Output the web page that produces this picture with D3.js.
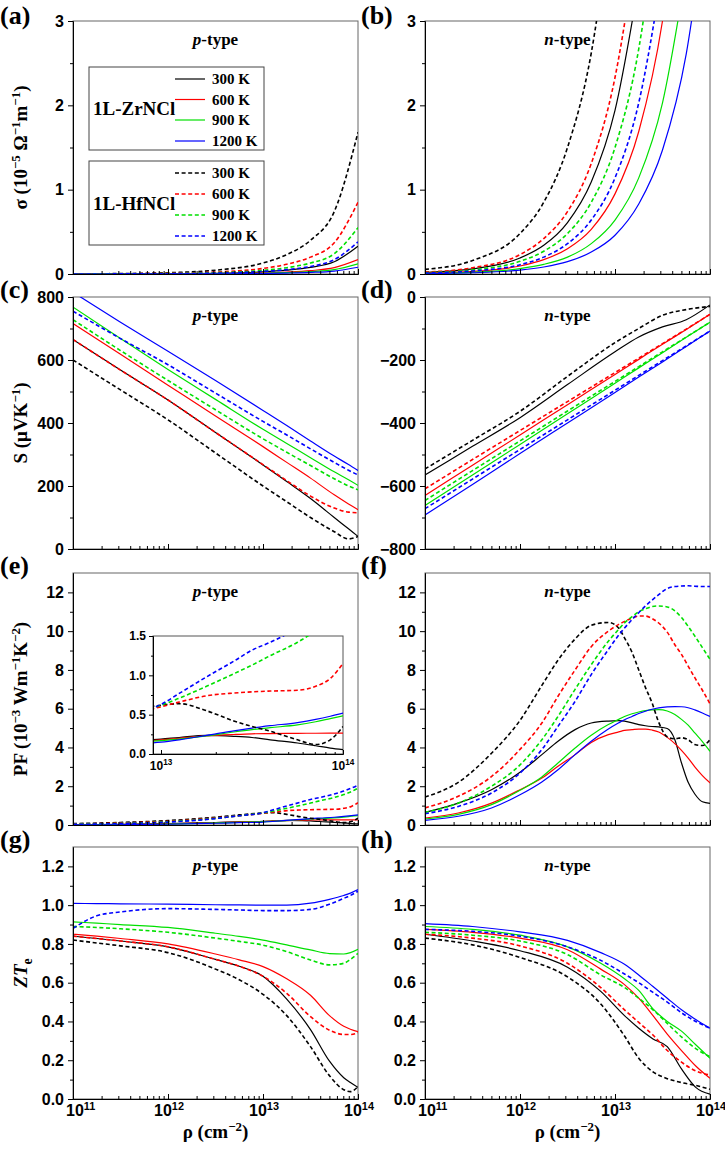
<!DOCTYPE html>
<html><head><meta charset="utf-8">
<script src="https://cdn.jsdelivr.net/npm/d3@7"></script>
<style>body{margin:0;background:#fff} svg{display:block}</style>
</head><body><svg id="c" width="725" height="1149"></svg>
<script>
// ---------- DATA (x grids are log10 of carrier density in cm^-2) ----------
// Row order in every value table: Zr300, Zr600, Zr900, Zr1200, Hf300, Hf600, Hf900, Hf1200
const temps = ["300 K", "600 K", "900 K", "1200 K"];
const materials = ["1L-ZrNCl", "1L-HfNCl"];
const colors = ["#000000", "#ff0000", "#00e000", "#0000ff"];
const xTickExps = [11, 12, 13, 14];

const sigP_x = [11, 11.5, 12, 12.5, 13, 13.25, 13.5, 13.75, 14];
const sigP = [
  [0.0004, 0.001, 0.003, 0.009, 0.025, 0.045, 0.078, 0.145, 0.33],
  [0.0002, 0.0005, 0.0015, 0.0045, 0.013, 0.023, 0.04, 0.075, 0.17],
  [0.00015, 0.00035, 0.001, 0.003, 0.009, 0.016, 0.028, 0.052, 0.12],
  [0.0001, 0.00025, 0.0007, 0.002, 0.006, 0.011, 0.019, 0.035, 0.08],
  [0.002, 0.005, 0.015, 0.045, 0.13, 0.23, 0.40, 0.74, 1.68],
  [0.001, 0.0025, 0.008, 0.023, 0.066, 0.116, 0.20, 0.37, 0.85],
  [0.0007, 0.0016, 0.005, 0.015, 0.043, 0.075, 0.13, 0.24, 0.55],
  [0.0005, 0.0011, 0.0034, 0.01, 0.03, 0.052, 0.09, 0.17, 0.38]
];

const sigN_x = [11, 11.5, 12, 12.25, 12.5, 12.75, 13, 13.25, 13.5, 13.75, 14];
const sigN = [
  [0.019, 0.061, 0.19, 0.34, 0.61, 1.09, 1.94, 3.45, null, null, null],
  [0.0095, 0.03, 0.095, 0.17, 0.3, 0.53, 0.95, 1.69, 3.0, 5.3, null],
  [0.0064, 0.02, 0.064, 0.114, 0.2, 0.36, 0.64, 1.14, 2.03, 3.6, null],
  [0.0046, 0.015, 0.046, 0.083, 0.146, 0.26, 0.46, 0.83, 1.47, 2.61, 4.65],
  [0.055, 0.16, 0.48, 0.85, 1.5, 2.62, 4.65, null, null, null, null],
  [0.023, 0.074, 0.23, 0.42, 0.74, 1.31, 2.33, 4.1, null, null, null],
  [0.015, 0.048, 0.15, 0.27, 0.48, 0.85, 1.50, 2.67, 4.75, null, null],
  [0.011, 0.036, 0.11, 0.2, 0.36, 0.64, 1.14, 2.03, 3.6, null, null]
];

const seebP_x = [11, 11.5, 12, 12.5, 13, 13.25, 13.5, 13.75, 13.9, 14];
const seebP = [
  [665, 568, 473, 370, 267, 214, 160, 100, 64, 40],
  [716, 618, 520, 422, 325, 275, 225, 172, 143, 125],
  [768, 668, 570, 475, 380, 335, 290, 245, 220, 202],
  [815, 720, 628, 535, 440, 392, 343, 295, 268, 249],
  [600, 505, 410, 305, 200, 150, 100, 55, 32, 40],
  [665, 568, 473, 370, 268, 217, 168, 130, 117, 115],
  [728, 630, 535, 442, 350, 307, 265, 223, 200, 188],
  [755, 668, 585, 495, 405, 362, 318, 275, 250, 235]
];

const seebN_x = [11, 11.5, 12, 12.5, 13, 13.25, 13.5, 13.75, 14];
const seebN = [
  [-565, -474, -383, -278, -174, -127, -95, -72, -25],
  [-630, -534, -438, -342, -246, -198, -150, -103, -55],
  [-662, -565, -468, -371, -274, -225, -177, -128, -80],
  [-692, -595, -497, -400, -303, -254, -206, -157, -108],
  [-546, -455, -363, -252, -145, -100, -58, -40, -30],
  [-609, -516, -424, -332, -240, -194, -148, -102, -55],
  [-646, -551, -457, -362, -268, -221, -174, -127, -80],
  [-672, -578, -484, -390, -296, -249, -202, -155, -108]
];

const pfP_x = [11, 11.5, 12, 12.5, 12.75, 13, 13.1, 13.25, 13.4, 13.5, 13.6, 13.75, 13.85, 13.93, 14];
const pfP = [
  [0.01, 0.03, 0.07, 0.13, 0.16, 0.19, 0.21, 0.236, 0.225, 0.21, 0.18, 0.14, 0.105, 0.075, 0.055],
  [0.01, 0.025, 0.06, 0.12, 0.15, 0.18, 0.20, 0.23, 0.248, 0.257, 0.26, 0.263, 0.264, 0.265, 0.265],
  [0.008, 0.02, 0.05, 0.11, 0.14, 0.17, 0.19, 0.23, 0.28, 0.31, 0.335, 0.37, 0.41, 0.45, 0.485],
  [0.006, 0.015, 0.04, 0.09, 0.12, 0.15, 0.18, 0.236, 0.295, 0.33, 0.36, 0.40, 0.44, 0.48, 0.52],
  [0.07, 0.13, 0.23, 0.4, 0.52, 0.62, 0.64, 0.55, 0.42, 0.35, 0.29, 0.18, 0.12, 0.18, 0.35],
  [0.05, 0.1, 0.19, 0.36, 0.48, 0.60, 0.66, 0.74, 0.775, 0.79, 0.80, 0.81, 0.86, 0.96, 1.15],
  [0.04, 0.08, 0.17, 0.34, 0.48, 0.62, 0.71, 0.86, 1.02, 1.13, 1.25, 1.42, 1.57, 1.72, 1.9],
  [0.03, 0.07, 0.15, 0.33, 0.48, 0.63, 0.77, 0.98, 1.18, 1.32, 1.42, 1.6, 1.75, 1.9, 2.05]
];

const pfN_x = [11, 11.35, 11.7, 12, 12.23, 12.4, 12.58, 12.75, 12.93, 13.04, 13.1, 13.18, 13.25, 13.32, 13.39, 13.46, 13.55, 13.63, 13.7, 13.77, 13.84, 13.92, 14];
const pfN = [
  [0.65, 1.13, 1.82, 2.72, 3.63, 4.32, 4.92, 5.26, 5.36, 5.38, 5.36, 5.27, 5.18, 5.12, 5.08, 5.06, 4.98, 4.4, 3.2, 2.2, 1.6, 1.2, 1.12],
  [0.36, 0.62, 1.13, 1.82, 2.42, 3.03, 3.63, 4.26, 4.66, 4.8, 4.88, 4.92, 4.95, 4.95, 4.9, 4.8, 4.52, 4.2, 3.85, 3.45, 3.0, 2.55, 2.17],
  [0.31, 0.55, 1.05, 1.79, 2.48, 3.2, 3.97, 4.63, 5.18, 5.45, 5.6, 5.74, 5.83, 5.9, 5.94, 5.95, 5.88, 5.7, 5.45, 5.15, 4.75, 4.3, 3.8],
  [0.24, 0.45, 0.88, 1.56, 2.22, 2.85, 3.63, 4.32, 4.95, 5.27, 5.43, 5.6, 5.75, 5.87, 5.97, 6.04, 6.09, 6.11, 6.1, 6.05, 5.94, 5.78, 5.6],
  [1.44, 2.2, 3.7, 5.4, 7.2, 8.5, 9.6, 10.3, 10.45, 10.15, 9.65, 8.9, 8.0, 7.1, 6.3, 5.3, 4.55, 4.45, 4.5, 4.4, 4.15, 4.1, 4.4],
  [0.88, 1.48, 2.5, 3.9, 5.26, 6.64, 8.0, 9.2, 10.0, 10.35, 10.5, 10.68, 10.78, 10.78, 10.65, 10.42, 9.95, 9.3, 8.8, 8.2, 7.6, 6.95, 6.25],
  [0.65, 1.13, 2.0, 3.1, 4.4, 5.6, 7.0, 8.27, 9.48, 10.1, 10.42, 10.75, 11.0, 11.15, 11.27, 11.3, 11.25, 11.05, 10.7, 10.25, 9.75, 9.15, 8.55],
  [0.58, 0.96, 1.65, 2.68, 3.89, 5.09, 6.38, 7.76, 9.05, 9.8, 10.16, 10.6, 10.95, 11.3, 11.6, 11.88, 12.2, 12.3, 12.33, 12.34, 12.32, 12.3, 12.3]
];

const ztP_x = [11, 11.25, 11.5, 12, 12.5, 12.75, 13, 13.25, 13.5, 13.7, 13.85, 13.92, 14];
const ztP = [
  [0.84, 0.828, 0.815, 0.785, 0.72, 0.685, 0.633, 0.515, 0.358, 0.195, 0.11, 0.085, 0.06],
  [0.85, 0.84, 0.828, 0.80, 0.748, 0.718, 0.683, 0.62, 0.535, 0.43, 0.375, 0.36, 0.347],
  [0.914, 0.907, 0.90, 0.885, 0.855, 0.839, 0.82, 0.795, 0.769, 0.75, 0.748, 0.755, 0.772],
  [1.009, 1.008, 1.007, 1.005, 1.002, 1.001, 1.0, 1.0, 1.01, 1.03, 1.05, 1.062, 1.08],
  [0.82, 0.805, 0.79, 0.755, 0.67, 0.615, 0.54, 0.43, 0.27, 0.12, 0.048, 0.038, 0.064],
  [0.84, 0.828, 0.815, 0.785, 0.72, 0.685, 0.633, 0.545, 0.425, 0.355, 0.333, 0.333, 0.342],
  [0.89, 0.885, 0.878, 0.86, 0.83, 0.813, 0.794, 0.76, 0.717, 0.692, 0.70, 0.72, 0.751],
  [0.88, 0.945, 0.965, 0.982, 0.978, 0.975, 0.972, 0.972, 0.978, 1.005, 1.035, 1.05, 1.072]
];

const ztN_x = [11, 11.5, 12, 12.5, 12.85, 13.1, 13.25, 13.4, 13.55, 13.7, 13.85, 14];
const ztN = [
  [0.85, 0.815, 0.765, 0.68, 0.555, 0.43, 0.365, 0.31, 0.27, 0.155, 0.06, 0.025],
  [0.875, 0.86, 0.83, 0.77, 0.67, 0.59, 0.52, 0.43, 0.335, 0.25, 0.17, 0.107],
  [0.89, 0.875, 0.845, 0.785, 0.70, 0.62, 0.56, 0.465, 0.40, 0.35, 0.28, 0.21],
  [0.905, 0.89, 0.862, 0.818, 0.755, 0.695, 0.64, 0.58, 0.52, 0.46, 0.41, 0.365],
  [0.83, 0.795, 0.73, 0.63, 0.49, 0.325, 0.21, 0.14, 0.105, 0.085, 0.07, 0.05],
  [0.85, 0.83, 0.79, 0.70, 0.575, 0.46, 0.395, 0.33, 0.25, 0.19, 0.145, 0.124],
  [0.86, 0.845, 0.815, 0.745, 0.64, 0.575, 0.52, 0.46, 0.39, 0.32, 0.26, 0.218],
  [0.875, 0.865, 0.84, 0.785, 0.715, 0.645, 0.60, 0.55, 0.50, 0.445, 0.40, 0.365]
];

// ---------- LAYOUT ----------
const svg = d3.select("#c");
const cols = [[73, 358], [425, 710]];
const rows = [[21, 274], [297, 549], [573, 825], [847, 1099]];
const SANS = "'Liberation Sans', Arial, sans-serif";
const SERIF = "'Liberation Serif', 'Times New Roman', serif";

function rich(t, parts, fs) {
  let shift = 0;
  parts.forEach(([s, kind]) => {
    let target = 0, size = fs;
    if (kind === "sup") { target = -0.38 * fs; size = 0.68 * fs; }
    else if (kind === "sub") { target = 0.28 * fs; size = 0.72 * fs; }
    const ts = t.append("tspan").text(s).attr("dy", target - shift).attr("font-size", size);
    if (kind === "i") ts.attr("font-style", "italic");
    shift = target;
  });
}

const ylabels = [
  [["σ (10", "n"], ["−5", "sup"], [" Ω", "n"], ["−1", "sup"], ["m", "n"], ["−1", "sup"], [")", "n"]],
  [["S (μVK", "n"], ["−1", "sup"], [")", "n"]],
  [["PF (10", "n"], ["−3", "sup"], [" Wm", "n"], ["−1", "sup"], ["K", "n"], ["−2", "sup"], [")", "n"]],
  [["ZT", "i"], ["e", "sub"]]
];

const range = (a, b, s) => d3.range(a, b + s / 2, s).map(v => +v.toFixed(4));
const panels = [
  { id: "a", c: 0, r: 0, xs: sigP_x, ys: sigP, dom: [0, 3], major: [0, 1, 2, 3], minor: [0.5, 1.5, 2.5], fmt: d => d, type: "p" },
  { id: "b", c: 1, r: 0, xs: sigN_x, ys: sigN, dom: [0, 3], major: [0, 1, 2, 3], minor: [0.5, 1.5, 2.5], fmt: d => d, type: "n" },
  { id: "c", c: 0, r: 1, xs: seebP_x, ys: seebP, dom: [0, 800], major: range(0, 800, 200), minor: range(100, 700, 200), fmt: d => d, type: "p" },
  { id: "d", c: 1, r: 1, xs: seebN_x, ys: seebN, dom: [-800, 0], major: range(-800, 0, 200), minor: range(-700, -100, 200), fmt: d => d < 0 ? "−" + Math.abs(d) : d, type: "n" },
  { id: "e", c: 0, r: 2, xs: pfP_x, ys: pfP, dom: [0, 13], major: range(0, 12, 2), minor: range(1, 13, 2), fmt: d => d, type: "p" },
  { id: "f", c: 1, r: 2, xs: pfN_x, ys: pfN, dom: [0, 13], major: range(0, 12, 2), minor: range(1, 13, 2), fmt: d => d, type: "n" },
  { id: "g", c: 0, r: 3, xs: ztP_x, ys: ztP, dom: [0, 1.3], major: range(0, 1.2, 0.2), minor: range(0.1, 1.3, 0.2), fmt: d3.format(".1f"), type: "p" },
  { id: "h", c: 1, r: 3, xs: ztN_x, ys: ztN, dom: [0, 1.3], major: range(0, 1.2, 0.2), minor: range(0.1, 1.3, 0.2), fmt: d3.format(".1f"), type: "n" }
];

const defs = svg.append("defs");

function minorLogTicks(lo, hi) {
  const out = [];
  for (let e = Math.floor(Math.log10(lo)); e < Math.log10(hi); e++)
    for (let m = 2; m <= 9; m++) { const v = m * Math.pow(10, e); if (v > lo && v < hi) out.push(v); }
  return out;
}

function drawSeries(g, xs, ys, x, y, clipId, wS, wD) {
  ys.forEach((row, i) => {
    const pts = xs.map((lx, k) => [lx, row[k]]);
    const line = d3.line().defined(d => d[1] != null)
      .x(d => x(Math.pow(10, d[0]))).y(d => y(d[1])).curve(d3.curveMonotoneX);
    g.append("path").datum(pts).attr("d", line)
      .attr("clip-path", `url(#${clipId})`)
      .attr("fill", "none").attr("stroke", colors[i % 4])
      .attr("stroke-width", i < 4 ? wS : wD)
      .attr("stroke-dasharray", i < 4 ? null : "4,2.6");
  });
}

function styleAxis(sel, fs) {
  sel.select(".domain").attr("stroke", "#000").attr("stroke-width", 1);
  sel.selectAll(".tick line").attr("stroke", "#000");
  sel.selectAll("text").attr("font-family", SANS).attr("font-weight", "bold").attr("font-size", fs).attr("fill", "#000");
}

panels.forEach(p => {
  const [x0, x1] = cols[p.c], [y0, y1] = rows[p.r];
  const x = d3.scaleLog().domain([1e11, 1e14]).range([x0, x1]);
  const y = d3.scaleLinear().domain(p.dom).range([y1, y0]);
  const g = svg.append("g");
  const clipId = "clip-" + p.id;
  defs.append("clipPath").attr("id", clipId).append("rect")
    .attr("x", x0).attr("y", y0).attr("width", x1 - x0).attr("height", y1 - y0);

  g.append("rect").attr("x", x0).attr("y", y0).attr("width", x1 - x0).attr("height", y1 - y0)
    .attr("fill", "none").attr("stroke", "#666").attr("stroke-width", 1);

  drawSeries(g, p.xs, p.ys, x, y, clipId, 1.2, 1.6);

  // y axis (ticks outward)
  const ya = g.append("g").attr("transform", `translate(${x0},0)`)
    .call(d3.axisLeft(y).tickValues(p.major).tickSize(5).tickSizeOuter(0).tickPadding(4).tickFormat(p.fmt));
  styleAxis(ya, 16);
  const ym = g.append("g").attr("transform", `translate(${x0},0)`)
    .call(d3.axisLeft(y).tickValues(p.minor.filter(v => v < p.dom[1])).tickSize(3).tickSizeOuter(0).tickFormat(""));
  styleAxis(ym, 16);
  // x axis (ticks inward)
  const xa = g.append("g").attr("transform", `translate(0,${y1})`)
    .call(d3.axisBottom(x).tickValues(xTickExps.map(e => Math.pow(10, e))).tickSize(-5).tickSizeOuter(0).tickFormat(""));
  styleAxis(xa, 16);
  const xm = g.append("g").attr("transform", `translate(0,${y1})`)
    .call(d3.axisBottom(x).tickValues(minorLogTicks(1e11, 1e14)).tickSize(-3).tickSizeOuter(0).tickFormat(""));
  styleAxis(xm, 16);

  if (p.r === 3) {
    xTickExps.forEach((e, k) => {
      const first = k === 0;
      const t = g.append("text").attr("x", first ? x0 - 7 : x(Math.pow(10, e)) + 1).attr("y", y1 + 17)
        .attr("text-anchor", first ? "start" : "middle").attr("font-family", SANS).attr("font-weight", "bold");
      rich(t, [["10", "n"], [String(e), "sup"]], 16);
    });
    const tt = g.append("text").attr("x", (x0 + x1) / 2).attr("y", y1 + 39)
      .attr("text-anchor", "middle").attr("font-family", SERIF).attr("font-weight", "bold");
    rich(tt, [["ρ (cm", "n"], ["−2", "sup"], [")", "n"]], 19);
  }

  // panel letter
  g.append("text").attr("x", p.c === 0 ? 0 : 361).attr("y", Math.max(y0 + 1, 24))
    .attr("font-family", SERIF).attr("font-weight", "bold").attr("font-size", 26).text(`(${p.id})`);

  // p-type / n-type
  const tl = g.append("text").attr("x", (x0 + x1) / 2).attr("y", y0 + 24).attr("text-anchor", "middle")
    .attr("font-family", SERIF).attr("font-weight", "bold").attr("font-size", 17);
  tl.append("tspan").attr("font-style", "italic").text(p.type);
  tl.append("tspan").text("-type");

  if (p.c === 0) {
    const yl = g.append("text").attr("transform", `translate(27,${(y0 + y1) / 2}) rotate(-90)`)
      .attr("text-anchor", "middle").attr("font-family", SERIF).attr("font-weight", "bold");
    rich(yl, ylabels[p.r], 19);
  }

  if (p.id === "a") drawLegend(g);
  if (p.id === "e") drawInset(g, p);
});

function drawLegend(g) {
  const boxes = [{ y: 67, h: 83, ty: 115, rows: [79, 99.5, 120, 141], dash: false },
                 { y: 161, h: 84, ty: 210, rows: [173, 194, 215, 236], dash: true }];
  boxes.forEach((b, bi) => {
    g.append("rect").attr("x", 89).attr("y", b.y).attr("width", 175).attr("height", b.h)
      .attr("fill", "#fff").attr("stroke", "#444").attr("stroke-width", 1);
    g.append("text").attr("x", 93).attr("y", b.ty).attr("font-family", SERIF).attr("font-weight", "bold")
      .attr("font-size", 19).text(materials[bi]);
    b.rows.forEach((ry, k) => {
      g.append("line").attr("x1", 175).attr("x2", 205).attr("y1", ry).attr("y2", ry)
        .attr("stroke", colors[k]).attr("stroke-width", b.dash ? 1.6 : 1.2)
        .attr("stroke-dasharray", b.dash ? "4,2.6" : null);
      g.append("text").attr("x", 212).attr("y", ry + 5).attr("font-family", SERIF).attr("font-weight", "bold")
        .attr("font-size", 15).text(temps[k]);
    });
  });
}

function drawInset(g, p) {
  const ix0 = 153, ix1 = 343, iy0 = 636, iy1 = 754;
  const x = d3.scaleLog().domain([Math.pow(10, 12.956), 1e14]).range([ix0, ix1]);
  const y = d3.scaleLinear().domain([0, 1.5]).range([iy1, iy0]);
  defs.append("clipPath").attr("id", "clip-inset").append("rect")
    .attr("x", ix0).attr("y", iy0).attr("width", ix1 - ix0).attr("height", iy1 - iy0);
  g.append("rect").attr("x", ix0).attr("y", iy0).attr("width", ix1 - ix0).attr("height", iy1 - iy0)
    .attr("fill", "#fff").attr("stroke", "#555").attr("stroke-width", 1);
  drawSeries(g, p.xs, p.ys, x, y, "clip-inset", 1.2, 1.6);
  const ya = g.append("g").attr("transform", `translate(${ix0},0)`)
    .call(d3.axisLeft(y).tickValues([0, 0.5, 1, 1.5]).tickSize(4).tickSizeOuter(0).tickPadding(3).tickFormat(d3.format(".1f")));
  styleAxis(ya, 12);
  const ym = g.append("g").attr("transform", `translate(${ix0},0)`)
    .call(d3.axisLeft(y).tickValues([0.25, 0.75, 1.25]).tickSize(2).tickSizeOuter(0).tickFormat(""));
  styleAxis(ym, 12);
  const xa = g.append("g").attr("transform", `translate(0,${iy1})`)
    .call(d3.axisBottom(x).tickValues([1e13, 1e14]).tickSize(-4).tickSizeOuter(0).tickFormat(""));
  styleAxis(xa, 12);
  const xm = g.append("g").attr("transform", `translate(0,${iy1})`)
    .call(d3.axisBottom(x).tickValues(minorLogTicks(Math.pow(10, 12.956), 1e14)).tickSize(-2).tickSizeOuter(0).tickFormat(""));
  styleAxis(xm, 12);
  [13, 14].forEach(e => {
    const t = g.append("text").attr("x", x(Math.pow(10, e))).attr("y", iy1 + 16)
      .attr("text-anchor", "middle").attr("font-family", SANS).attr("font-weight", "bold");
    rich(t, [["10", "n"], [String(e), "sup"]], 12);
  });
}
</script>
</body></html>
